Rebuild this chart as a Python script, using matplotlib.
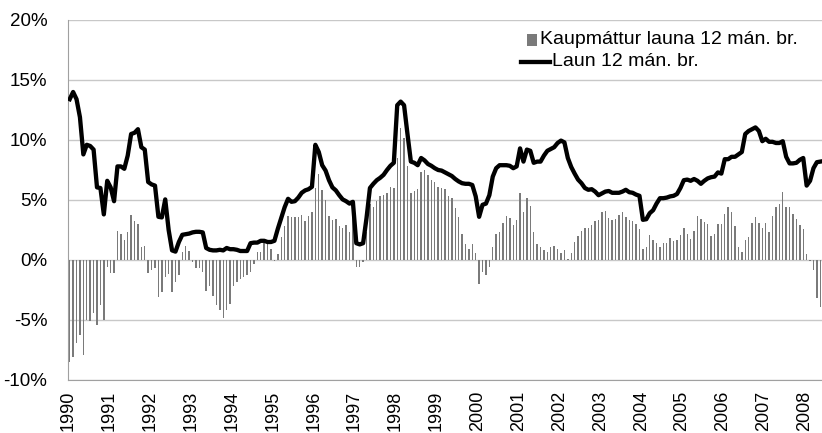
import numpy as np
import matplotlib
matplotlib.use("Agg")
import matplotlib.pyplot as plt
from matplotlib.patches import Rectangle
from matplotlib.lines import Line2D

# ==== DATA (monthly, Jan 1990 -> May 2008) ====
years = [str(y) for y in range(1990, 2009)]

# Kaupmáttur launa, 12 mán. breyting (%)
kaupmattur = [
    -8.5, -8.1, -6.9, -6.25, -7.9, -5.0, -5.1, -4.4, -5.4, -3.75, -5.0, -0.55,
    -1.1, -1.05, 2.4, 2.2, 1.7, 2.3, 3.75, 3.25, 3.0, 1.05, 1.2, -1.05,
    -0.8, -0.7, -3.1, -2.65, -1.4, -1.2, -2.65, -1.8, -1.25, 0.7, 1.2, 0.75,
    -0.2, -0.7, -0.65, -1.0, -2.6, -2.2, -3.0, -3.75, -4.15, -4.8, -4.15, -3.7,
    -2.2, -1.8, -1.6, -1.4, -1.25, -1.0, -0.3, 0.7, 0.7, 1.4, 1.35, 0.9,
    -0.1, 0.5, 1.95, 2.8, 3.65, 3.6, 3.55, 3.55, 3.75, 3.25, 3.7, 4.0,
    6.0, 7.2, 5.8, 5.0, 3.65, 3.3, 3.45, 2.8, 2.65, 2.9, 2.3, 4.0,
    -0.55, -0.55, -0.2, 2.35, 4.65, 4.45, 4.95, 5.35, 5.4, 5.55, 6.05, 6.0,
    8.5, 11.0, 10.2, 7.85, 5.55, 5.75, 5.9, 7.3, 7.5, 7.1, 6.65, 6.5,
    6.1, 6.0, 5.9, 5.35, 5.15, 4.35, 3.55, 2.15, 1.35, 0.95, 1.35, 0.55,
    -2.0, -1.0, -1.25, -0.6, 1.1, 2.15, 2.3, 3.1, 3.65, 3.5, 2.9, 3.35,
    5.55, 4.0, 5.2, 4.5, 2.3, 1.35, 1.05, 0.85, 0.7, 1.05, 1.2, 0.9,
    0.55, 0.85, 0.05, 0.55, 1.5, 2.0, 2.45, 2.7, 2.7, 2.9, 3.25, 3.35,
    4.0, 4.1, 3.5, 3.3, 3.4, 3.75, 4.0, 3.6, 3.35, 3.25, 3.0, 2.6,
    0.9, 1.05, 2.1, 1.7, 1.4, 1.1, 1.45, 1.45, 1.8, 1.6, 1.65, 2.05,
    2.65, 2.2, 1.75, 2.4, 3.65, 3.4, 3.15, 3.0, 2.0, 2.2, 3.0, 3.0,
    3.85, 4.45, 4.0, 2.85, 1.1, 0.7, 1.65, 1.9, 3.05, 3.6, 3.05, 2.7,
    3.1, 2.3, 3.65, 4.4, 4.7, 5.65, 4.4, 4.4, 3.8, 3.45, 2.95, 2.6,
    0.5, -0.1, -0.85, -3.2, -3.9,
]

# Laun, 12 mán. breyting (%)
laun = [
    13.4, 14.0, 13.4, 11.9, 8.8, 9.6, 9.5, 9.2, 6.05, 6.0, 3.8, 6.6,
    6.05, 4.9, 7.8, 7.8, 7.6, 8.7, 10.5, 10.6, 10.9, 9.4, 9.2, 6.5,
    6.3, 6.2, 3.6, 3.55, 5.05, 2.5, 0.8, 0.7, 1.5, 2.1, 2.15, 2.2,
    2.3, 2.35, 2.35, 2.3, 1.0, 0.85, 0.8, 0.8, 0.85, 0.8, 1.0, 0.9,
    0.9, 0.85, 0.75, 0.75, 0.75, 1.4, 1.45, 1.45, 1.6, 1.6, 1.5, 1.5,
    1.6, 2.6, 3.5, 4.4, 5.1, 4.85, 4.9, 5.2, 5.6, 5.8, 5.9, 6.1,
    9.6, 9.0, 7.9, 7.45, 6.65, 6.05, 5.8, 5.4, 5.05, 4.9, 4.7, 4.85,
    1.4, 1.3, 1.4, 3.5, 6.0, 6.35, 6.65, 6.85, 7.1, 7.5, 7.85, 8.1,
    12.9, 13.2, 12.9, 10.5, 8.2, 8.1, 7.9, 8.5, 8.3, 8.0, 7.85, 7.65,
    7.5, 7.45, 7.3, 7.15, 7.0, 6.75, 6.55, 6.4, 6.35, 6.35, 6.25, 5.3,
    3.6, 4.6, 4.7, 5.4, 6.95, 7.65, 7.9, 7.9, 7.9, 7.85, 7.65, 7.8,
    9.3, 8.2, 9.2, 9.1, 8.1, 8.2, 8.2, 8.7, 9.1, 9.25, 9.4, 9.75,
    9.95, 9.8, 8.5, 7.75, 7.2, 6.7, 6.4, 6.0, 5.85, 5.9, 5.7, 5.4,
    5.55, 5.7, 5.75, 5.6, 5.6, 5.6, 5.7, 5.85, 5.65, 5.6, 5.45, 5.35,
    3.35, 3.4, 3.9, 4.15, 4.7, 5.15, 5.15, 5.2, 5.3, 5.35, 5.5, 6.0,
    6.65, 6.7, 6.6, 6.75, 6.6, 6.35, 6.6, 6.8, 6.9, 6.95, 7.3, 7.2,
    8.4, 8.4, 8.6, 8.6, 8.8, 9.0, 10.5, 10.75, 10.9, 11.05, 10.75, 9.9,
    10.1, 9.85, 9.85, 9.75, 9.75, 9.9, 8.6, 8.05, 8.05, 8.1, 8.35, 8.5,
    6.2, 6.6, 7.65, 8.15, 8.2,
]

BAR_COLOR = '#7a7a7a'
W, H = 822, 433


def px(x, y):
    # pixel position (from top-left) -> figure fraction
    return x / W, 1 - y / H


# ==== PLOT ====
plt.rcParams['font.family'] = ['Liberation Sans', 'DejaVu Sans']

fig = plt.figure(figsize=(W / 100, H / 100), dpi=100)
ax = fig.add_axes([68 / W, 1 - 380 / H, 1 - 68 / W, 360 / H])

x = np.arange(len(kaupmattur))
ax.bar(x, kaupmattur, width=0.42, color=BAR_COLOR, zorder=2)
ax.plot(np.arange(len(laun)), laun, color='black', lw=3.1, zorder=3,
        solid_joinstyle='round')

ax.set_xlim(-0.5, len(kaupmattur) - 0.5)
ax.set_ylim(-10, 20)
ax.set_yticks(range(-10, 21, 5))
ax.set_yticklabels([f"{v}%" for v in range(-10, 21, 5)], fontsize=13.5)
ax.set_xticks(np.arange(0, len(kaupmattur), 12)[:len(years)] - 0.5)
ax.set_xticklabels(years, rotation=90, fontsize=13)
ax.tick_params(axis='both', length=0)
ax.tick_params(axis='y', pad=15)
ax.tick_params(axis='x', pad=8)

ax.grid(axis='y', color='#c8c8c8', lw=1, zorder=0)
for side in ['top', 'right']:
    ax.spines[side].set_visible(False)
ax.spines['left'].set_color('#a0a0a0')
ax.spines['bottom'].set_color('#a0a0a0')

# ==== LEGEND (drawn by hand, entries have different key widths) ====
x0, y0 = px(527, 46)
x1, y1 = px(537, 34)
fig.patches.append(Rectangle((x0, y0), x1 - x0, y1 - y0, facecolor=BAR_COLOR,
                             edgecolor='none', transform=fig.transFigure))
fig.text(*px(540, 40), "Kaupmáttur launa 12 mán. br.", fontsize=14,
         va='center', ha='left')

lx0, ly = px(521, 62)
lx1, _ = px(550, 62)
fig.lines.append(Line2D([lx0, lx1], [ly, ly], color='black', lw=3.1,
                        transform=fig.transFigure))
fig.text(*px(552, 62), "Laun 12 mán. br.", fontsize=14, va='center',
         ha='left')

fig.savefig('out.png', dpi=100)
